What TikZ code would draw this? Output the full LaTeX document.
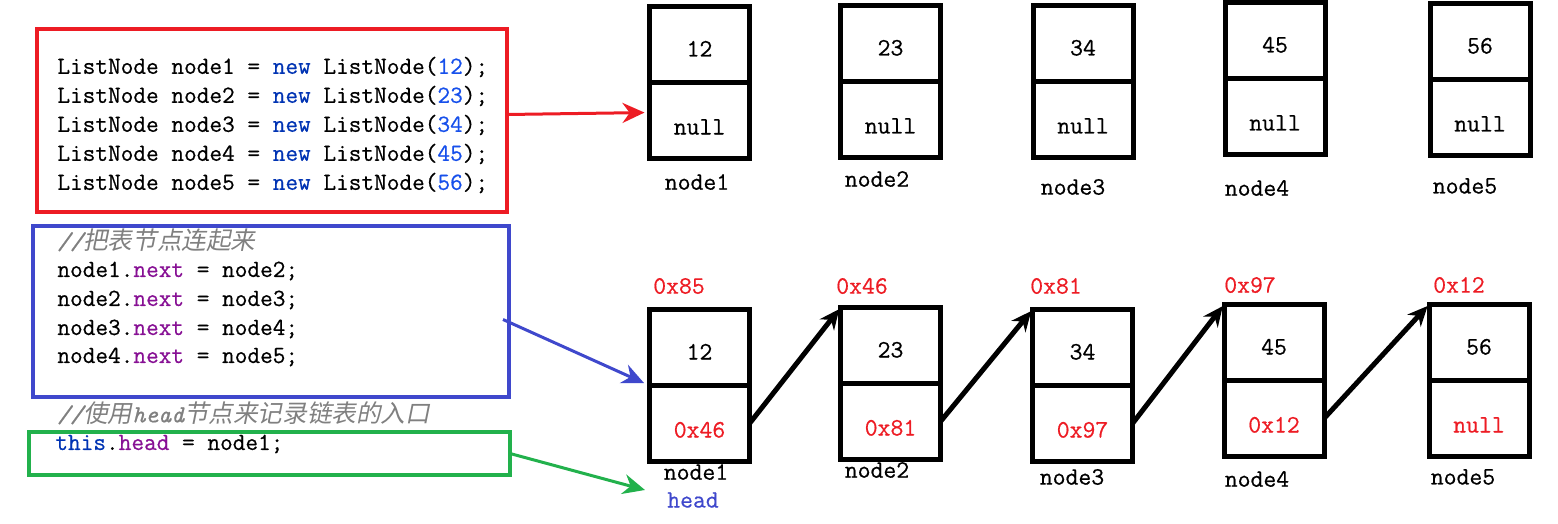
\documentclass[tikz,border=0pt]{standalone}
\usepackage{fontspec}
\setmonofont{Latin Modern Mono}[FakeBold=0.6]
\newfontfamily\cjkit[FakeSlant=0.2]{Noto Sans CJK SC}
\usetikzlibrary{positioning,arrows.meta}

\definecolor{boxred}{RGB}{237,28,36}
\definecolor{boxblue}{RGB}{63,72,204}
\definecolor{boxgreen}{RGB}{34,177,76}
\definecolor{kwblue}{RGB}{0,51,179}
\definecolor{numblue}{RGB}{23,80,235}
\definecolor{fieldpurple}{RGB}{135,16,148}
\definecolor{cmtgrey}{RGB}{128,128,128}

\newcommand{\codefont}{\ttfamily\fontsize{12.3}{14}\selectfont}
\newcommand{\cellfont}{\ttfamily\fontsize{12.5}{14}\selectfont}
\newcommand{\kw}[1]{\textcolor{kwblue}{#1}}
\newcommand{\num}[1]{\textcolor{numblue}{#1}}
\newcommand{\fld}[1]{\textcolor{fieldpurple}{#1}}

\tikzset{
  cell/.style={draw, line width=2.5pt, minimum width=50pt, minimum height=38pt,
    inner sep=0pt, outer sep=0pt, font=\cellfont, text height=12pt, text depth=0pt},
  ptrcell/.style={cell, text height=14pt},
  tag/.style={inner sep=0pt, font=\cellfont},
  addr/.style={tag, text=boxred},
  codebox/.style={draw, line width=2pt, inner sep=0pt, outer sep=0pt},
  codeline/.style={anchor=west, inner sep=0pt, font=\codefont},
  link/.style={line width=2.5pt, -{Stealth[length=10pt,width=9pt]}, shorten >=1pt},
  pointer/.style={line width=1.5pt, -{Stealth[length=11pt,width=10pt]}},
}

\begin{document}
\begin{tikzpicture}[x=0.5pt,y=-0.5pt]
\useasboundingbox (0,0) rectangle (1558,524);

% code boxes
\node[codebox, draw=boxred, minimum width=235pt, minimum height=91.5pt] (newbox) at (272,120.5) {};
\node[codebox, draw=boxblue, minimum width=238pt, minimum height=85.5pt] (linkbox) at (271,311.5) {};
\node[codebox, draw=boxgreen, minimum width=240.5pt, minimum height=21.5pt] (headbox) at (269.5,453.5) {};

\node[codeline] (c1) at (57,67) {ListNode node1 = \kw{new} ListNode(\num{12});};
\node[codeline] (c2) at (57,96) {ListNode node2 = \kw{new} ListNode(\num{23});};
\node[codeline] (c3) at (57,125) {ListNode node3 = \kw{new} ListNode(\num{34});};
\node[codeline] (c4) at (57,154) {ListNode node4 = \kw{new} ListNode(\num{45});};
\node[codeline] (c5) at (57,183) {ListNode node5 = \kw{new} ListNode(\num{56});};

\node[codeline, text=cmtgrey] (cm1) at (57,240) {{\itshape //}{\cjkit 把表节点连起来}};
\node[codeline] (n1) at (57,271) {node1.\fld{next} = node2;};
\node[codeline] (n2) at (57,300) {node2.\fld{next} = node3;};
\node[codeline] (n3) at (57,329) {node3.\fld{next} = node4;};
\node[codeline] (n4) at (57,357) {node4.\fld{next} = node5;};

\node[codeline, text=cmtgrey] (cm2) at (57,413) {{\itshape //}{\cjkit 使用}{\itshape head}{\cjkit 节点来记录链表的入口}};
\node[codeline] (h1) at (55,444) {\kw{this}.\fld{head} = node1;};

% new nodes, not linked yet
\node[cell] (t1) at (699.5,44.5) {12};
\node[ptrcell, below=0pt of t1] (u1) {null};
\node[tag] (lt1) at (697,182) {node1};

\node[cell] (t2) at (890.5,43.5) {23};
\node[ptrcell, below=0pt of t2] (u2) {null};
\node[tag] (lt2) at (877,179) {node2};

\node[cell] (t3) at (1083,43.5) {34};
\node[ptrcell, below=0pt of t3] (u3) {null};
\node[tag] (lt3) at (1073,187) {node3};

\node[cell] (t4) at (1275,40.5) {45};
\node[ptrcell, below=0pt of t4] (u4) {null};
\node[tag] (lt4) at (1257,188) {node4};

\node[cell] (t5) at (1480,41.5) {56};
\node[ptrcell, below=0pt of t5] (u5) {null};
\node[tag] (lt5) at (1465,186) {node5};

% linked list
\node[cell] (a1) at (699.5,347.5) {12};
\node[ptrcell, below=0pt of a1, text=boxred] (b1) {0x46};
\node[addr] (ad1) at (679,286) {0x85};
\node[tag] (lb1) at (696,472) {node1};
\node[tag, text=boxblue] (hd) at (693,500) {head};

\node[cell] (a2) at (890.5,345.5) {23};
\node[ptrcell, below=0pt of a2, text=boxred] (b2) {0x81};
\node[addr] (ad2) at (862,286) {0x46};
\node[tag] (lb2) at (877,470) {node2};

\node[cell] (a3) at (1082.5,347.5) {34};
\node[ptrcell, below=0pt of a3, text=boxred] (b3) {0x97};
\node[addr] (ad3) at (1056,286) {0x81};
\node[tag] (lb3) at (1072,477) {node3};

\node[cell] (a4) at (1274,342.5) {45};
\node[ptrcell, below=0pt of a4, text=boxred] (b4) {0x12};
\node[addr] (ad4) at (1250,285) {0x97};
\node[tag] (lb4) at (1257,479) {node4};

\node[cell] (a5) at (1479,342.5) {56};
\node[ptrcell, below=0pt of a5, text=boxred] (b5) {null};
\node[addr] (ad5) at (1459,285) {0x12};
\node[tag] (lb5) at (1463,477) {node5};

\draw[link] (b1.east) -- (a2.north west);
\draw[link] (b2.east) -- (a3.north west);
\draw[link] (b3.east) -- (a4.north west);
\draw[link] (b4.east) -- (a5.north west);

% from code to picture
\coordinate (hdtip) at (645,490);
\draw[pointer, boxred, shorten >=2.5pt] ([yshift=3pt]newbox.east) -- ([yshift=4pt]u1.west);
\draw[pointer, boxblue, shorten >=3pt] ([xshift=-3pt,yshift=-4pt]linkbox.east) -- (a1.south west);
\draw[pointer, boxgreen] (headbox.east) -- (hdtip);

\end{tikzpicture}
\end{document}
